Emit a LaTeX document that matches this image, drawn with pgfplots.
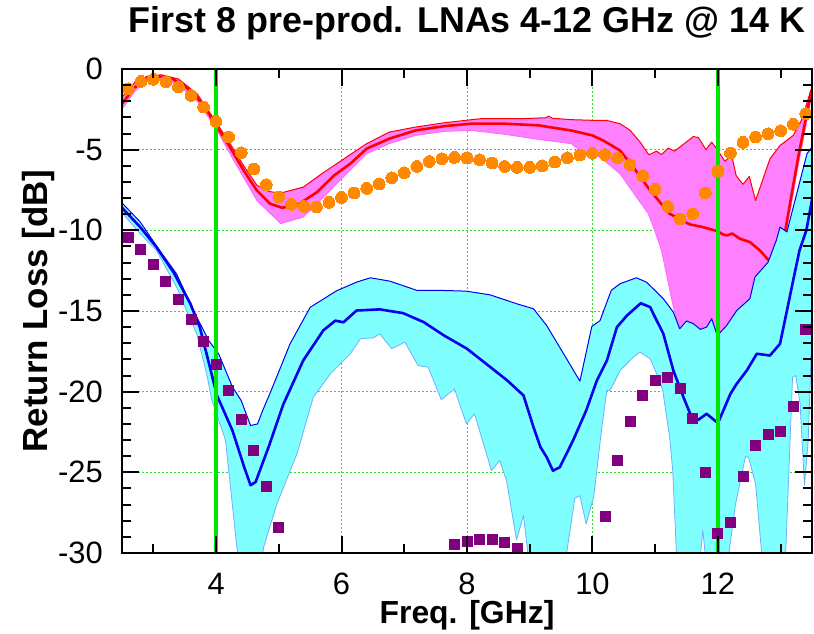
\documentclass[border=0pt]{standalone}
\usepackage{fontspec}
\setmainfont{Liberation Sans}
\usepackage{pgfplots}
\usepackage{pgfplotstable}
\pgfplotsset{compat=1.18}
\usepgfplotslibrary{fillbetween}
\definecolor{pinkfill}{RGB}{255,128,255}
\definecolor{pinkedge}{RGB}{250,100,250}
\definecolor{cyanfill}{RGB}{128,255,255}
\definecolor{cyanedge}{RGB}{110,175,255}
\definecolor{meanred}{RGB}{255,0,0}
\definecolor{meanblue}{RGB}{0,0,240}
\definecolor{dotorange}{RGB}{255,136,0}
\definecolor{sqpurple}{RGB}{128,0,128}
\definecolor{vgreen}{RGB}{0,230,0}
\definecolor{gridgreen}{RGB}{40,225,40}
\pgfplotsset{
  layers/mylayers/.define layer set={axis background,axis grid,main,axis ticks,axis lines,axis tick labels,axis descriptions,axis foreground}{/pgfplots/layers/standard},
}
\tikzset{fill between/on layer=main}

\pgfplotstableread{
x y
2.6 -1.22
2.8 -0.77
3.0 -0.64
3.2 -0.79
3.4 -1.12
3.6 -1.64
3.8 -2.36
4.0 -3.25
4.2 -4.22
4.4 -5.19
4.6 -6.20
4.8 -7.17
5.0 -7.94
5.2 -8.39
5.4 -8.52
5.6 -8.56
5.8 -8.27
6.0 -7.96
6.2 -7.69
6.4 -7.40
6.6 -7.13
6.8 -6.74
7.0 -6.43
7.2 -6.04
7.4 -5.73
7.6 -5.56
7.8 -5.48
8.0 -5.52
8.2 -5.62
8.4 -5.83
8.6 -6.04
8.8 -6.10
9.0 -6.10
9.2 -6.00
9.4 -5.77
9.6 -5.50
9.8 -5.33
10.0 -5.22
10.2 -5.31
10.4 -5.52
10.6 -5.93
10.8 -6.61
11.0 -7.46
11.2 -8.52
11.4 -9.30
11.6 -8.97
11.8 -7.67
12.0 -6.33
12.2 -5.21
12.4 -4.55
12.6 -4.22
12.8 -4.01
13.0 -3.83
13.2 -3.43
13.4 -2.77
}\orangedots

\pgfplotstableread{
x y
2.6 -10.42
2.8 -11.2
3.0 -12.1
3.2 -13.15
3.4 -14.31
3.6 -15.52
3.8 -16.87
4.0 -18.33
4.2 -19.95
4.4 -21.7
4.6 -23.67
4.8 -25.9
5.0 -28.44
7.8 -29.47
8.0 -29.28
8.2 -29.14
8.4 -29.14
8.6 -29.33
8.8 -29.7
10.2 -27.72
10.4 -24.25
10.6 -21.83
10.8 -20.22
11.0 -19.31
11.2 -19.12
11.4 -19.82
11.6 -21.68
11.8 -25.03
12.0 -28.81
12.2 -28.09
12.4 -25.24
12.6 -23.34
12.8 -22.63
13.0 -22.49
13.2 -20.92
13.4 -16.17
}\purplesq

\pgfplotstableread{
x y
2.5 -1.75
2.7 -0.85
2.9 -0.45
3.13 -0.36
3.4 -0.62
3.7 -1.55
4.0 -3.29
4.22 -4.6
4.44 -6.0
4.65 -7.2
4.85 -7.6
5.03 -7.69
5.39 -7.32
5.7 -6.45
6.0 -5.67
6.4 -4.63
6.76 -3.91
7.18 -3.6
7.64 -3.33
8.22 -3.08
8.86 -3.08
9.26 -3.02
9.3 -2.92
9.36 -3.05
9.66 -3.14
10.08 -3.19
10.23 -3.19
10.44 -3.39
10.6 -3.8
10.76 -4.53
10.9 -5.32
11.02 -5.09
11.1 -5.3
11.21 -4.9
11.31 -5.09
11.61 -4.18
11.69 -4.26
11.81 -5.0
11.9 -4.53
11.98 -4.94
12.11 -5.71
12.22 -5.36
12.29 -6.6
12.4 -7.15
12.5 -6.66
12.6 -8.15
12.83 -5.56
12.99 -4.74
13.2 -4.12
13.33 -3.19
13.5 -1.1
}\pinkup

\pgfplotstableread{
x y
2.5 -2.5
2.7 -1.4
2.9 -0.75
3.13 -0.6
3.4 -1.0
3.7 -2.0
4.0 -3.7
4.28 -5.67
4.65 -8.15
5.03 -9.59
5.39 -9.18
5.7 -8.0
6.0 -6.8
6.4 -5.25
6.76 -4.63
7.18 -4.12
7.64 -3.87
8.07 -3.81
8.6 -4.05
9.13 -4.36
9.66 -4.63
9.8 -5.05
10.12 -5.46
10.44 -6.5
10.7 -7.94
10.89 -8.97
10.99 -10.0
11.1 -11.25
11.2 -13.1
11.29 -14.77
11.39 -16.1
11.6 -16.8
11.9 -17.0
12.3 -16.0
12.6 -13.8
12.8 -12.5
12.95 -12.6
13.07 -10.6
13.28 -6.0
13.5 -1.6
}\pinklo

\pgfplotstableread{
x y
2.5 -2.15
2.7 -1.15
2.9 -0.6
3.1 -0.46
3.3 -0.6
3.5 -1.05
3.7 -1.78
3.85 -2.55
4.0 -3.5
4.22 -4.84
4.44 -6.29
4.65 -7.53
4.86 -8.35
5.05 -8.6
5.29 -8.45
5.61 -7.63
5.88 -6.6
6.14 -5.87
6.4 -4.94
6.76 -4.32
7.18 -3.81
7.64 -3.54
8.07 -3.39
8.6 -3.39
9.13 -3.49
9.66 -3.81
10.0 -4.12
10.17 -4.43
10.44 -5.05
10.65 -6.08
10.92 -7.53
11.23 -8.97
11.55 -9.63
11.76 -9.8
11.99 -10.05
12.08 -10.25
12.14 -10.32
12.23 -10.2
12.35 -10.52
12.51 -10.73
12.67 -11.25
12.8 -11.82
12.92 -12.3
13.07 -10.1
13.28 -5.46
13.49 -1.33
}\redmean

\pgfplotstableread{
x y
2.5 -8.3
2.79 -9.48
3.1 -11.25
3.37 -12.7
3.64 -14.97
3.88 -16.82
4.04 -17.65
4.26 -19.7
4.4 -20.55
4.55 -22.1
4.66 -22.0
4.75 -21.1
4.86 -20.1
5.18 -17.03
5.5 -14.77
5.92 -13.75
6.24 -13.21
6.46 -12.94
6.77 -13.15
7.2 -13.72
7.57 -13.72
7.99 -13.77
8.37 -14.0
8.79 -14.55
9.06 -14.86
9.27 -15.9
9.54 -17.65
9.8 -19.35
9.99 -15.96
10.12 -15.6
10.3 -13.72
10.44 -13.31
10.7 -12.94
10.86 -13.21
10.97 -13.62
11.13 -14.24
11.29 -15.07
11.39 -16.1
11.5 -15.62
11.61 -15.79
11.72 -16.14
11.82 -16.0
11.9 -15.48
11.99 -16.52
12.14 -15.9
12.3 -14.97
12.51 -14.24
12.59 -12.9
12.8 -11.97
12.93 -10.63
12.99 -9.8
13.1 -10.1
13.42 -5.25
13.5 -4.84
}\cyanup

\pgfplotstableread{
x y
2.5 -8.9
2.79 -10.21
3.05 -11.25
3.37 -13.52
3.69 -16.41
3.85 -18.9
3.93 -20.5
4.15 -23.0
4.33 -29.6
4.38 -31
4.7 -31
4.76 -29.6
4.97 -26.95
5.29 -23.85
5.55 -20.34
5.82 -18.9
6.14 -17.65
6.3 -16.72
6.51 -16.66
6.61 -16.42
6.8 -17.34
7.01 -16.93
7.22 -18.38
7.38 -18.48
7.59 -20.5
7.8 -19.83
7.99 -22.0
8.12 -21.37
8.39 -24.89
8.52 -24.27
8.63 -25.5
8.79 -29.2
8.9 -27.67
9.0 -31
9.55 -31
9.72 -26.6
9.8 -26.45
9.9 -28.2
10.02 -26.5
10.15 -22.2
10.23 -19.9
10.28 -19.93
10.44 -18.69
10.65 -17.86
10.76 -17.55
10.92 -17.96
11.07 -19.31
11.12 -19.92
11.23 -22.8
11.28 -24.9
11.35 -31
11.7 -31
11.76 -28.6
11.82 -31
12.14 -31
12.28 -27.0
12.44 -24.0
12.49 -24.1
12.6 -25.7
12.72 -31
13.07 -31
13.19 -19.1
13.24 -19.0
13.31 -20.75
13.38 -25.8
13.44 -23
13.5 -16
}\cyanlo

\pgfplotstableread{
x y
2.5 -8.6
2.79 -9.8
3.05 -11.04
3.32 -12.59
3.59 -14.55
3.74 -16.0
3.9 -18.45
4.01 -20.2
4.26 -22.4
4.45 -24.7
4.55 -25.8
4.63 -25.6
4.84 -23.4
5.07 -20.8
5.39 -18.06
5.71 -16.2
5.9 -15.6
6.03 -15.7
6.24 -14.97
6.61 -14.9
6.98 -15.13
7.31 -15.69
7.63 -16.51
8.0 -17.34
8.37 -18.47
8.64 -19.3
8.9 -20.23
9.06 -22.2
9.17 -23.43
9.27 -24.06
9.37 -24.9
9.48 -24.68
9.69 -23.03
9.9 -21.17
10.07 -19.31
10.23 -18.07
10.39 -16.0
10.55 -15.28
10.77 -14.52
10.92 -14.76
10.97 -15.17
11.13 -16.41
11.29 -18.69
11.45 -20.34
11.58 -21.58
11.69 -21.74
11.82 -21.37
12.0 -21.95
12.2 -20.13
12.3 -19.51
12.46 -18.69
12.62 -17.65
12.83 -17.76
12.99 -17.03
13.09 -15.17
13.2 -13.1
13.3 -11.25
13.41 -10.0
13.5 -8.1
}\bluemean

\begin{document}
\begin{tikzpicture}
\begin{axis}[
  set layers=mylayers,
  scale only axis, width=690bp, height=484bp,
  xmin=2.5, xmax=13.5, ymin=-30, ymax=0,
  xtick={4,6,8,10,12}, xticklabels={4,6,8,10,12},
  ytick={-30,-25,-20,-15,-10,-5,0}, yticklabels={-30,-25,-20,-15,-10,-5,0},
  minor xtick={3,5,7,9,11,13},
  minor ytick={-29,-28,...,-1},
  tick align=inside, xtick pos=both, ytick pos=both,
  xticklabel pos=lower, yticklabel pos=left,
  major tick length=17bp, minor tick length=9bp,
  tick style={black, line width=2bp},
  axis line style={black, line width=2bp},
  grid=major,
  major grid style={color=gridgreen, line width=0.9bp, dash pattern=on 2bp off 2bp},
  xticklabel style={font=\fontsize{31}{35}\selectfont, anchor=base, inner sep=0pt, yshift=-41bp},
  yticklabel style={font=\fontsize{31}{35}\selectfont, anchor=east, inner sep=0pt, xshift=-19bp},
  title={First 8 pre-prod. LNAs 4-12 GHz @ 14 K},
  title style={at={(axis description cs:0.5,1)}, anchor=base, yshift=31bp, inner sep=0pt, font=\bfseries\fontsize{36}{40}\selectfont},
  xlabel={Freq. [GHz]},
  xlabel style={at={(axis description cs:0.5,0)}, anchor=base, yshift=-70bp, inner sep=0pt, font=\bfseries\fontsize{32}{36}\selectfont},
  ylabel={Return Loss [dB]},
  ylabel style={at={(axis description cs:0,0.5)}, anchor=base, yshift=74bp, inner sep=0pt, font=\bfseries\fontsize{35}{38}\selectfont},
  line join=round,
]
% pink band
\addplot[draw=none, name path=pu, forget plot] table {\pinkup};
\addplot[draw=none, name path=pl, forget plot] table {\pinklo};
\addplot[pinkfill, draw=none] fill between[of=pu and pl];
\addplot[pinkedge, line width=0.7bp, no marks] table {\pinklo};
\addplot[meanred, line width=1bp, no marks] table {\pinkup};
\addplot[meanred, line width=2.6bp, no marks] table {\redmean};
% cyan band
\addplot[draw=none, name path=cu, forget plot] table {\cyanup};
\addplot[draw=none, name path=cl, forget plot] table {\cyanlo};
\addplot[cyanfill, draw=none] fill between[of=cu and cl];
\addplot[cyanedge, line width=0.8bp, no marks] table {\cyanlo};
\addplot[meanblue, line width=1bp, no marks] table {\cyanup};
\addplot[meanblue, line width=2.6bp, no marks] table {\bluemean};
% band limits 4 and 12 GHz
\addplot[vgreen, line width=3.2bp, no marks] coordinates {(4,-30) (4,0)};
\addplot[vgreen, line width=3.2bp, no marks] coordinates {(12,-30) (12,0)};
% measured single unit
\addplot[dotorange, only marks, mark=*, mark size=5.9bp, mark options={solid, draw=dotorange, fill=dotorange, line width=0pt}] table {\orangedots};
\addplot[sqpurple, only marks, mark=square*, mark size=5bp, mark options={solid, draw=sqpurple, fill=sqpurple, line width=0pt}] table {\purplesq};
\end{axis}
\pgfresetboundingbox
\path[use as bounding box] (-122bp,-81bp) rectangle (692bp,553bp);
\end{tikzpicture}
\end{document}
